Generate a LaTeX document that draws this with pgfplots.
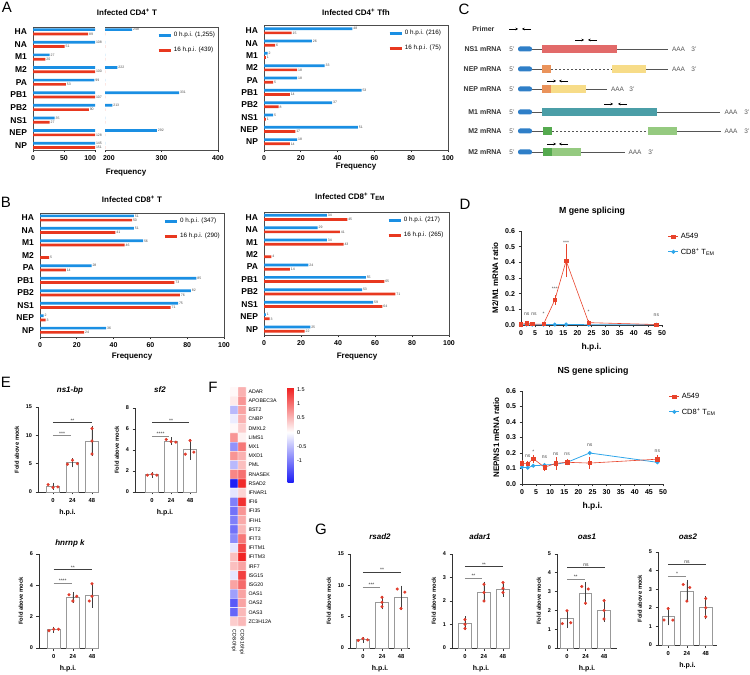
\documentclass[border=0pt]{standalone}
\usepackage{pgfplots}
\pgfplotsset{compat=1.18}
\usepackage{pgfplotstable}
\usepackage{fontspec}
\setmainfont{Liberation Sans}
\usetikzlibrary{arrows.meta}

\definecolor{cblue}{HTML}{1A8FE3}
\definecolor{cred}{HTML}{E8381F}
\definecolor{dred}{HTML}{E8432B}
\definecolor{dblue}{HTML}{2FA6EA}
\definecolor{dotred}{HTML}{E23B2B}
\definecolor{ns1c}{HTML}{E26A69}
\definecolor{orc}{HTML}{EA935B}
\definecolor{yelc}{HTML}{F7DC88}
\definecolor{tealc}{HTML}{4B9EA7}
\definecolor{dgc}{HTML}{55AA4F}
\definecolor{lgc}{HTML}{95CA80}
\definecolor{capc}{HTML}{2F7FC8}
\definecolor{linec}{HTML}{555555}
\definecolor{txtc}{HTML}{333333}

\newcommand{\fs}[1]{\fontsize{#1}{#1}\selectfont}

% ---------------- data ----------------
\pgfplotstableread{
i a b
0 248 89
1 108 51
2 27 20
3 222 100
4 99 53
5 331 107
6 213 90
7 35 27
8 292 128
9 145 151
}\tabAT
\pgfplotstableread{
i a b
0 48 15
1 26 6
2 2 1
3 33 18
4 18 5
5 53 14
6 37 8
7 5 1
8 51 17
9 18 14
}\tabTfh
\pgfplotstableread{
i a b
0 51 50
1 51 41
2 56 46
3 0 5
4 28 14
5 85 73
6 82 76
7 75 71
8 2 3
9 36 24
}\tabBT
\pgfplotstableread{
i a b
0 34 45
1 29 41
2 34 43
3 0 4
4 24 14
5 55 65
6 53 71
7 59 64
8 1 3
9 25 22
}\tabTEM
\pgfplotstableread{
x y c
0 0 0.05
1 0 0.55
0 1 0.15
1 1 0.75
0 2 -0.55
1 2 0.65
0 3 -0.15
1 3 0.55
0 4 0.05
1 4 0.35
0 5 0.75
1 5 0.10
0 6 -0.85
1 6 0.95
0 7 0.75
1 7 0.55
0 8 -0.55
1 8 0.45
0 9 0.85
1 9 1.00
0 10 -1.75
1 10 1.50
0 11 -0.20
1 11 0.30
0 12 -1.00
1 12 1.45
0 13 -1.10
1 13 0.75
0 14 -1.00
1 14 0.60
0 15 -1.10
1 15 0.50
0 16 -0.90
1 16 0.95
0 17 -0.20
1 17 1.30
0 18 0.45
1 18 1.55
0 19 0.45
1 19 0.65
0 20 -0.20
1 20 1.35
0 21 0.65
1 21 1.05
0 22 -0.75
1 22 0.65
0 23 -1.30
1 23 0.65
0 24 -1.20
1 24 0.50
0 25 0.35
1 25 0.50
}\heat

\pgfplotsset{
  hbar/.style={scale only axis, y dir=reverse,
    ytick={0,...,9}, yticklabels={HA,NA,M1,M2,PA,PB1,PB2,NS1,NEP,NP},
    yticklabel style={font=\fs{8.5}\bfseries, text=black},
    xticklabel style={font=\fs{7}\bfseries},
    /pgf/number format/assume math mode=true,
    ytick style={draw=none},
    xtick style={black!85, line width=0.7pt},
    tick align=outside, major tick length=2.5pt,
    axis line style={black!70, line width=0.8pt},
    legend image code/.code={\draw[##1] (0pt,0pt) -- (12pt,0pt);},
    legend style={draw=none, fill=none, font=\fs{6.3}, inner sep=0pt, row sep=5pt},
    legend cell align=left},
  bl/.style={forget plot, xbar, bar width=2.7pt, bar shift=0pt, fill=cblue, draw=none},
  rd/.style={forget plot, xbar, bar width=2.7pt, bar shift=0pt, fill=cred, draw=none},
  vlab/.style={nodes near coords, point meta=x, nodes near coords style={font=\fs{3.5}, anchor=west, inner sep=0.8pt, text=black!70}},
  labs/.style={forget plot, draw=none, mark=none, nodes near coords, point meta=explicit symbolic, nodes near coords style={font=\fs{3.5}, anchor=west, inner sep=0.8pt, text=black!70}},
  lineplot/.style={scale only axis, axis lines*=left, clip=false, xmin=0, xmax=50, xtick={0,5,...,50},
    tick align=outside, major tick length=2.5pt,
    axis line style={black!80, line width=0.8pt}, tick style={black!80, line width=0.7pt},
    /pgf/number format/assume math mode=true,
    xticklabel style={font=\fs{7}\bfseries},
    yticklabel style={font=\fs{7}\bfseries, /pgf/number format/fixed, /pgf/number format/fixed zerofill, /pgf/number format/precision=1},
    xlabel={h.p.i.}, xlabel style={font=\fs{8.5}\bfseries},
    ylabel style={font=\fs{8}\bfseries},
    legend style={draw=none, fill=none, font=\fs{7.5}, row sep=4pt, at={(1.02,1.02)}, anchor=north west},
    legend cell align=left, reverse legend,
    legend image code/.code={\draw[mark repeat=2, mark phase=2, ##1] plot coordinates {(0pt,0pt) (5pt,0pt) (10pt,0pt)};}},
  siglabD/.style={forget plot, draw=none, mark=none, nodes near coords, point meta=explicit symbolic, nodes near coords style={font=\fs{5}, anchor=south, inner sep=0.3pt, text=black!70}},
  dotbar/.style={scale only axis, axis lines*=left, clip=false, ymin=0,
    xtick={0,1,2}, xticklabels={0,24,48},
    tick align=outside, major tick length=2.5pt,
    axis line style={black!80, line width=0.8pt}, tick style={black!80, line width=0.7pt},
    /pgf/number format/assume math mode=true,
    xticklabel style={font=\fs{5.8}\bfseries},
    yticklabel style={font=\fs{5.5}\bfseries},
    ylabel={Fold above mock}, ylabel style={font=\fs{5.8}\bfseries},
    xlabel={h.p.i.}, xlabel style={font=\fs{7}\bfseries}},
  wbar/.style={forget plot, ybar, bar width=12.5pt, bar shift=0pt, fill=white, draw=black!40, line width=0.8pt,
    error bars/.cd, y dir=both, y explicit, error bar style={black!75, line width=0.7pt}, error mark options={black!75, mark size=2.2pt, line width=0.7pt}},
  rdot/.style={forget plot, only marks, mark=*, mark size=1.35pt, dotred},
  sig1/.style={forget plot, black!45, line width=0.9pt, mark=none},
  sig2/.style={forget plot, black!75, line width=0.9pt, mark=none},
  siglab/.style={forget plot, draw=none, mark=none, nodes near coords, point meta=explicit symbolic, nodes near coords style={font=\fs{5}, anchor=south, inner sep=0.3pt, text=black!80}},
}

\begin{document}
\begin{tikzpicture}
\path[use as bounding box] (0pt,0pt) rectangle (750pt,675pt);

% ---------------- panel letters ----------------
\node[font=\fs{15}, anchor=base] at (7pt,662pt) {A};
\node[font=\fs{15}, anchor=base] at (6pt,467pt) {B};
\node[font=\fs{15}, anchor=base] at (464pt,660pt) {C};
\node[font=\fs{15}, anchor=base] at (465pt,465pt) {D};
\node[font=\fs{15}, anchor=base] at (6pt,287pt) {E};
\node[font=\fs{15}, anchor=base] at (213pt,282pt) {F};
\node[font=\fs{15}, anchor=base] at (321pt,140pt) {G};

% ---------------- titles ----------------
\node[font=\fs{8}\bfseries] at (127pt,663pt) {Infected CD4\textsuperscript{+} T};
\node[font=\fs{8}\bfseries] at (356pt,663pt) {Infected CD4\textsuperscript{+} Tfh};
\node[font=\fs{8}\bfseries] at (132pt,476pt) {Infected CD8\textsuperscript{+} T};
\node[font=\fs{8}\bfseries] at (350pt,478pt) {Infected CD8\textsuperscript{+} T\textsubscript{EM}};
\node[font=\fs{8}\bfseries] at (126pt,502pt) {Frequency};
\node[font=\fs{8}\bfseries] at (356pt,508pt) {Frequency};
\node[font=\fs{8}\bfseries] at (132pt,318pt) {Frequency};
\node[font=\fs{8}\bfseries] at (357pt,318pt) {Frequency};
\node[font=\fs{8.8}\bfseries] at (592pt,464pt) {M gene splicing};
\node[font=\fs{8.8}\bfseries] at (593pt,304pt) {NS gene splicing};
\node[font=\fs{8}\bfseries\itshape] at (70pt,285pt) {ns1-bp};
\node[font=\fs{8}\bfseries\itshape] at (160pt,285pt) {sf2};
\node[font=\fs{8}\bfseries\itshape] at (70pt,132pt) {hnrnp k};
\node[font=\fs{8}\bfseries\itshape] at (380pt,138pt) {rsad2};
\node[font=\fs{8}\bfseries\itshape] at (480pt,138pt) {adar1};
\node[font=\fs{8}\bfseries\itshape] at (587pt,138pt) {oas1};
\node[font=\fs{8}\bfseries\itshape] at (688pt,138pt) {oas2};

% ---------------- A left (broken axis) ----------------
\begin{axis}[hbar, at={(33pt,525pt)}, anchor=south west, width=62pt, height=123pt,
  xmin=0, xmax=100, ymin=-0.38, ymax=9.37, xtick={0,50,100},
  xticklabels={0,50,{\makebox[0pt][r]{100\hspace{-1pt}}}},
  axis x line*=box, axis y line*=left, xtick pos=bottom, clip=false]
\addplot[bl, restrict x to domain*=0:100] table[x=a, y expr=\thisrow{i}-0.17]{\tabAT};
\addplot[rd, restrict x to domain*=0:100] table[x=b, y expr=\thisrow{i}+0.17]{\tabAT};
\addplot[labs] coordinates {(100,0.83)[108] (27,1.83)[27] (99,3.83)[99] (35,6.83)[35] (100,8.83)[145]};
\addplot[labs] coordinates {(89,0.17)[89] (51,1.17)[51] (20,2.17)[20] (100,3.17)[100] (53,4.17)[53] (100,5.17)[107] (90,6.17)[90] (27,7.17)[27] (100,8.17)[128] (100,9.17)[151]};
\end{axis}
\begin{axis}[hbar, at={(105pt,525pt)}, anchor=south west, width=113pt, height=123pt,
  xmin=200, xmax=400, ymin=-0.38, ymax=9.37, xtick={200,300,400}, ytick=\empty,
  xticklabels={{\makebox[0pt][l]{\hspace{-2pt}200}},300,400},
  axis x line*=box, axis y line*=right, xtick pos=bottom,
  legend style={at={(0.46,0.975)}, anchor=north west}]
\addplot[bl] table[x=a, y expr=\thisrow{i}-0.17]{\tabAT};
\addplot[rd] table[x=b, y expr=\thisrow{i}+0.17]{\tabAT};
\addplot[labs] coordinates {(248,-0.17)[248] (222,2.83)[222] (331,4.83)[331] (213,5.83)[213] (292,7.83)[292]};
\addlegendimage{cblue, line width=2.7pt}\addlegendentry{0 h.p.i. (1,255)}
\addlegendimage{cred, line width=2.7pt}\addlegendentry{16 h.p.i. (439)}
\end{axis}

% ---------------- A right ----------------
\begin{axis}[hbar, at={(264pt,525pt)}, anchor=south west, width=184pt, height=125pt,
  xmin=0, xmax=100, ymin=-0.47, ymax=9.67, xtick={0,20,...,100}, xtick pos=bottom, ytick pos=left,
  legend style={at={(0.674,0.975)}, anchor=north west}]
\addplot[bl, vlab] table[x=a, y expr=\thisrow{i}-0.17]{\tabTfh};
\addplot[rd, vlab] table[x=b, y expr=\thisrow{i}+0.17]{\tabTfh};
\addlegendimage{cblue, line width=2.7pt}\addlegendentry{0 h.p.i. (216)}
\addlegendimage{cred, line width=2.7pt}\addlegendentry{16 h.p.i. (75)}
\end{axis}

% ---------------- B left ----------------
\begin{axis}[hbar, at={(40pt,338pt)}, anchor=south west, width=184pt, height=124pt,
  xmin=0, xmax=100, ymin=-0.4, ymax=9.54, xtick={0,20,...,100}, xtick pos=bottom, ytick pos=left,
  legend style={at={(0.67,0.975)}, anchor=north west}]
\addplot[bl, vlab, restrict x to domain=0.5:1000] table[x=a, y expr=\thisrow{i}-0.17]{\tabBT};
\addplot[rd, vlab] table[x=b, y expr=\thisrow{i}+0.17]{\tabBT};
\addlegendimage{cblue, line width=2.7pt}\addlegendentry{0 h.p.i. (347)}
\addlegendimage{cred, line width=2.7pt}\addlegendentry{16 h.p.i. (290)}
\end{axis}

% ---------------- B right ----------------
\begin{axis}[hbar, at={(264pt,340pt)}, anchor=south west, width=185pt, height=123pt,
  xmin=0, xmax=100, ymin=-0.43, ymax=9.47, xtick={0,20,...,100}, xtick pos=bottom, ytick pos=left,
  legend style={at={(0.665,0.975)}, anchor=north west}]
\addplot[bl, vlab, restrict x to domain=0.5:1000] table[x=a, y expr=\thisrow{i}-0.17]{\tabTEM};
\addplot[rd, vlab] table[x=b, y expr=\thisrow{i}+0.17]{\tabTEM};
\addlegendimage{cblue, line width=2.7pt}\addlegendentry{0 h.p.i. (217)}
\addlegendimage{cred, line width=2.7pt}\addlegendentry{16 h.p.i. (265)}
\end{axis}

% ---------------- C schematic ----------------
\begin{axis}[scale only axis, at={(460pt,505pt)}, anchor=south west, width=290pt, height=170pt,
  xmin=460, xmax=750, ymin=0, ymax=170, y dir=reverse, hide axis, clip=false]
\tikzset{lab/.style={anchor=east, font=\fs{7}\bfseries, text=txtc},
  end/.style={font=\fs{6.5}, text=linec},
  bb/.style={line width=0.9pt, linec}}
\node[lab] at (498,29) {Primer};
% NS1
\node[lab] at (505,49) {NS1 mRNA}; \node[end] at (512,49) {5'};
\draw[bb] (525,49) -- (668,49);
\fill[capc, rounded corners=2.2pt] (518,46.5) rectangle (532,51.5);
\fill[ns1c] (542,45) rectangle (617,53);
\node[end] at (678.5,49) {AAA}; \node[end] at (694,49) {3'};
% NEP 1
\node[lab] at (505,69) {NEP mRNA}; \node[end] at (512,69) {5'};
\draw[bb] (525,69) -- (542,69); \draw[bb, dash pattern=on 2pt off 2pt] (551,69) -- (612,69); \draw[bb] (646,69) -- (668,69);
\fill[capc, rounded corners=2.2pt] (518,66.5) rectangle (532,71.5);
\fill[orc] (542,65) rectangle (551,73); \fill[yelc] (612,65) rectangle (646,73);
\node[end] at (678.5,69) {AAA}; \node[end] at (694,69) {3'};
% NEP 2
\node[lab] at (505,89) {NEP mRNA}; \node[end] at (512,89) {5'};
\draw[bb] (525,89) -- (607,89);
\fill[capc, rounded corners=2.2pt] (518,86.5) rectangle (532,91.5);
\fill[orc] (542,85) rectangle (551,93); \fill[yelc] (551,85) rectangle (586,93);
\node[end] at (617.5,89) {AAA}; \node[end] at (632,89) {3'};
% M1
\node[lab] at (505,112) {M1 mRNA}; \node[end] at (512,112) {5'};
\draw[bb] (525,112) -- (720,112);
\fill[capc, rounded corners=2.2pt] (518,109.5) rectangle (532,114.5);
\fill[tealc] (542,108) rectangle (657,116);
\node[end] at (731,112) {AAA}; \node[end] at (747,112) {3'};
% M2 1
\node[lab] at (505,131) {M2 mRNA}; \node[end] at (512,131) {5'};
\draw[bb] (525,131) -- (543,131); \draw[bb, dash pattern=on 2pt off 2pt] (552,131) -- (648,131); \draw[bb] (677,131) -- (721,131);
\fill[capc, rounded corners=2.2pt] (518,128.5) rectangle (532,133.5);
\fill[dgc] (543,127) rectangle (552,135); \fill[lgc] (648,127) rectangle (677,135);
\node[end] at (731,131) {AAA}; \node[end] at (747,131) {3'};
% M2 2
\node[lab] at (505,152) {M2 mRNA}; \node[end] at (512,152) {5'};
\draw[bb] (525,152) -- (625,152);
\fill[capc, rounded corners=2.2pt] (518,149.5) rectangle (532,154.5);
\fill[dgc] (543,148) rectangle (552,156); \fill[lgc] (552,148) rectangle (581,156);
\node[end] at (635,152) {AAA}; \node[end] at (651,152) {3'};
\end{axis}
% primer arrows (plain coordinates, schematic only)
\begin{scope}[pr/.style={-{Stealth[length=2.6pt,width=2.6pt]}, line width=0.55pt, black}]
\draw[pr] (509pt,646pt) -- (518pt,646pt); \draw[pr] (531pt,646pt) -- (522pt,646pt);
\draw[pr] (575pt,635pt) -- (584pt,635pt); \draw[pr] (597pt,635pt) -- (588pt,635pt);
\draw[pr] (547pt,594pt) -- (556pt,594pt); \draw[pr] (568pt,594pt) -- (559pt,594pt);
\draw[pr] (604pt,571pt) -- (613pt,571pt); \draw[pr] (627pt,571pt) -- (618pt,571pt);
\draw[pr] (547pt,531pt) -- (556pt,531pt); \draw[pr] (568pt,531pt) -- (559pt,531pt);
\end{scope}

% ---------------- D: M gene splicing ----------------
\begin{axis}[lineplot, at={(521pt,350pt)}, anchor=south west, width=141pt, height=94pt,
  ymin=0, ymax=0.6, ytick={0,0.1,0.2,0.3,0.4,0.5,0.6}, ylabel={M2/M1 mRNA ratio}]
\addplot[dblue, line width=0.8pt, mark=*, mark size=1.6pt] coordinates {(0,0.002) (2,0.002) (4,0.002) (8,0.002) (12,0.003) (16,0.003) (24,0.002) (48,0.002)};
\addlegendentry{CD8\textsuperscript{+} T\textsubscript{EM}}
\addplot[dred, line width=0.6pt, mark=square*, mark size=1.7pt,
  error bars/.cd, y dir=both, y explicit, error bar style={dred, line width=0.6pt}, error mark options={dred, mark size=1.5pt, line width=0.6pt}]
  coordinates {(0,0.005) (2,0.01) (4,0.006) (8,0.006) (12,0.16) +- (0,0.02) (16,0.41) +- (0,0.095) (24,0.015) +- (0,0.006) (48,0.003)};
\addlegendentry{A549}
\addplot[siglabD] coordinates {(2,0.06)[ns] (4.6,0.055)[ns] (8,0.06)[*] (12,0.22)[***] (16,0.51)[***] (24,0.07)[*] (48,0.05)[ns]};
\end{axis}

% ---------------- D: NS gene splicing ----------------
\begin{axis}[lineplot, at={(522pt,191pt)}, anchor=south west, width=141pt, height=93pt,
  ymin=0, ymax=0.6, ytick={0,0.1,0.2,0.3,0.4,0.5,0.6}, ylabel={NEP/NS1 mRNA ratio}]
\addplot[dblue, line width=0.8pt, mark=*, mark size=1.6pt] coordinates {(0,0.108) (2,0.105) (4,0.118) (8,0.122) (12,0.128) (16,0.14) (24,0.2) (48,0.14)};
\addlegendentry{CD8\textsuperscript{+} T\textsubscript{EM}}
\addplot[dred, line width=0.6pt, mark=square*, mark size=1.7pt,
  error bars/.cd, y dir=both, y explicit, error bar style={dred, line width=0.6pt}, error mark options={dred, mark size=1.5pt, line width=0.6pt}]
  coordinates {(0,0.133) +- (0,0.01) (2,0.13) +- (0,0.01) (4,0.163) +- (0,0.015) (8,0.108) +- (0,0.015) (12,0.133) +- (0,0.03) (16,0.14) +- (0,0.01) (24,0.135) +- (0,0.03) (48,0.16) +- (0,0.015)};
\addlegendentry{A549}
\addplot[siglabD] coordinates {(2,0.165)[ns] (4,0.195)[*] (8,0.16)[ns] (12,0.18)[ns] (16,0.18)[ns] (24,0.24)[ns] (48,0.2)[ns]};
\end{axis}

% ---------------- E ----------------
\begin{axis}[dotbar, at={(38pt,183pt)}, anchor=south west, width=59pt, height=85pt,
  xmin=-0.77, xmax=2.26, ymax=15, ytick={0,5,10,15}]
\addplot[wbar] coordinates {(0,1.0) +- (0,0.25) (1,5.15) +- (0,0.4) (2,9.0) +- (0,2.3)};
\addplot[rdot] coordinates {(-0.25,1.3) (0,0.8) (0.25,0.9) (1,5.6) (0.75,4.9) (1.25,5.0) (2,11.2) (2,9.0) (2,6.7)};
\addplot[sig1] coordinates {(0,9.9) (0.95,9.9)};
\addplot[sig2] coordinates {(0,12.2) (2,12.2)};
\addplot[siglab] coordinates {(0.47,9.9)[***] (1,12.2)[**]};
\end{axis}

\begin{axis}[dotbar, at={(135pt,183pt)}, anchor=south west, width=60pt, height=84pt,
  xmin=-0.9, xmax=2.26, ymax=8, ytick={0,2,4,6,8}]
\addplot[wbar] coordinates {(0,1.63) +- (0,0.06) (1,4.85) +- (0,0.15) (2,4.05) +- (0,0.75)};
\addplot[rdot] coordinates {(-0.25,1.6) (0,1.7) (0.25,1.6) (0.75,5.0) (1,4.8) (1.25,4.75) (2,4.9) (1.75,3.6) (2.2,3.8)};
\addplot[sig1] coordinates {(0,5.3) (0.9,5.3)};
\addplot[sig2] coordinates {(0,6.6) (1.95,6.6)};
\addplot[siglab] coordinates {(0.45,5.3)[****] (1,6.6)[**]};
\end{axis}

\begin{axis}[dotbar, at={(39pt,27pt)}, anchor=south west, width=58pt, height=94pt,
  xmin=-0.77, xmax=2.26, ymax=6, ytick={0,2,4,6}]
\addplot[wbar] coordinates {(0,1.17) +- (0,0.05) (1,3.23) +- (0,0.2) (2,3.35) +- (0,0.65)};
\addplot[rdot] coordinates {(-0.25,1.1) (0,1.2) (0.25,1.2) (0.8,3.4) (1.2,3.3) (1,3.0) (2,4.1) (2,3.3) (1.85,3.0)};
\addplot[sig1] coordinates {(0,4.13) (0.95,4.13)};
\addplot[sig2] coordinates {(0,5.0) (2,5.0)};
\addplot[siglab] coordinates {(0.47,4.13)[****] (1,5.0)[**]};
\end{axis}

% ---------------- F heatmap ----------------
\begin{axis}[at={(230pt,49pt)}, anchor=south west, scale only axis, width=16pt, height=239pt,
  xmin=-0.5, xmax=1.5, ymin=-0.5, ymax=25.5, y dir=reverse, enlargelimits=false,
  axis line style={draw=none}, tick style={draw=none},
  xtick={0,1}, xticklabels={CD8-0hpi,CD8-16hpi},
  xticklabel style={rotate=-90, anchor=west, font=\fs{5.2}},
  ytick={0,...,25},
  yticklabels={ADAR,APOBEC3A,BST2,CNBP,DMXL2,LIMS1,MX1,MXD1,PML,RNASEK,RSAD2,IFNAR1,IFI6,IFI35,IFIH1,IFIT2,IFIT3,IFITM1,IFITM3,IRF7,ISG15,ISG20,OAS1,OAS2,OAS3,ZC3H12A},
  yticklabel pos=right, yticklabel style={anchor=west, font=\fs{5.2}, xshift=-1pt},
  colormap={bwr}{rgb255(0)=(25,25,245); rgb255(18)=(255,255,255); rgb255(34)=(240,28,28)},
  point meta min=-1.8, point meta max=1.6,
  colorbar,
  colorbar style={at={(parent axis.north east)}, anchor=north west, xshift=33pt,
    width=6pt, height=96pt, ytick={-1,-0.5,0,0.5,1,1.5},
    /pgf/number format/assume math mode=true,
    yticklabel style={font=\fs{5.5}}, axis line style={draw=none}, major tick length=0pt}]
\addplot[matrix plot*, mesh/cols=2, point meta=explicit, draw=white, line width=0.3pt] table[meta=c]{\heat};
\end{axis}

% ---------------- G ----------------
\begin{axis}[dotbar, at={(350pt,27pt)}, anchor=south west, width=60pt, height=94pt,
  xmin=-0.68, xmax=2.47, ymax=15, ytick={0,5,10,15}]
\addplot[wbar] coordinates {(0,1.3) +- (0,0.1) (1,7.2) +- (0,0.7) (2,8.0) +- (0,1.6)};
\addplot[rdot] coordinates {(-0.25,1.2) (0,1.5) (0.25,1.3) (1,8.1) (1,7.3) (1,6.6) (1.8,9.4) (2.2,8.9) (2,6.3)};
\addplot[sig1] coordinates {(0,9.7) (0.9,9.7)};
\addplot[sig2] coordinates {(0,12.1) (2,12.1)};
\addplot[siglab] coordinates {(0.45,9.7)[***] (1,12.1)[**]};
\end{axis}

\begin{axis}[dotbar, at={(452pt,27pt)}, anchor=south west, width=58pt, height=94pt,
  xmin=-0.68, xmax=2.37, ymax=4, ytick={0,1,2,3,4}]
\addplot[wbar] coordinates {(0,1.05) +- (0,0.2) (1,2.38) +- (0,0.35) (2,2.5) +- (0,0.22)};
\addplot[rdot] coordinates {(0,1.21) (0,1.01) (0,0.83) (1,2.71) (1,2.36) (1,2.0) (2,2.79) (2,2.54) (2,2.36)};
\addplot[sig1] coordinates {(0,2.98) (0.9,2.98)};
\addplot[sig2] coordinates {(0,3.45) (2,3.45)};
\addplot[siglab] coordinates {(0.45,2.98)[**] (1,3.45)[**]};
\end{axis}

\begin{axis}[dotbar, at={(557pt,27pt)}, anchor=south west, width=60pt, height=94pt,
  xmin=-0.54, xmax=2.7, ymax=5, ytick={0,1,2,3,4,5}]
\addplot[wbar] coordinates {(0,1.55) +- (0,0.38) (1,2.9) +- (0,0.48) (2,2.0) +- (0,0.5)};
\addplot[rdot] coordinates {(0,1.98) (-0.25,1.3) (0.2,1.34) (0.8,3.27) (1.15,3.14) (1,2.38) (2,2.52) (2,2.0) (2,1.54)};
\addplot[sig1] coordinates {(0,3.67) (0.95,3.67)};
\addplot[sig2] coordinates {(0,4.3) (2.05,4.3)};
\addplot[siglab] coordinates {(0.47,3.67)[**] (1.02,4.3)[ns]};
\end{axis}

\begin{axis}[dotbar, at={(658pt,30pt)}, anchor=south west, width=59pt, height=93pt,
  xmin=-0.54, xmax=2.6, ymax=5, ytick={0,1,2,3,4,5}]
\addplot[wbar] coordinates {(0,1.55) +- (0,0.37) (1,2.9) +- (0,0.48) (2,2.0) +- (0,0.5)};
\addplot[rdot] coordinates {(0,1.96) (-0.22,1.34) (0.25,1.34) (0.8,3.25) (1.15,3.09) (1,2.36) (2,2.5) (2,2.0) (2,1.52)};
\addplot[sig1] coordinates {(0,3.7) (0.95,3.7)};
\addplot[sig2] coordinates {(0,4.35) (2,4.35)};
\addplot[siglab] coordinates {(0.47,3.7)[*] (1,4.35)[ns]};
\end{axis}

\end{tikzpicture}
\end{document}
